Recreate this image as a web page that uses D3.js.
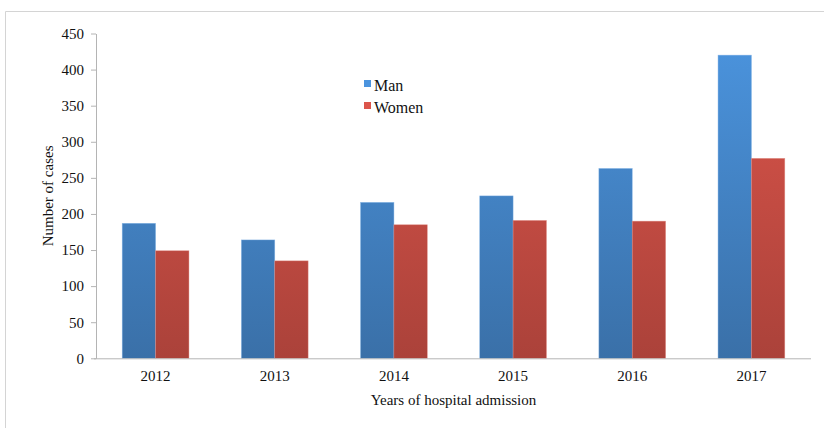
<!DOCTYPE html>
<html>
<head>
<meta charset="utf-8">
<script src="https://cdn.jsdelivr.net/npm/d3@7"></script>
<style>
  html, body { margin: 0; padding: 0; background: #fff; }
  svg { display: block; }
  svg text { font-family: 'Liberation Serif', 'Times New Roman', Times, serif !important; fill: #111; }
</style>
</head>
<body>
<svg id="chart" width="824" height="428"></svg>
<script>
// Hospital admissions by year and sex
const years = ["2012", "2013", "2014", "2015", "2016", "2017"];
const seriesNames = ["Man", "Women"];
const manCases = [187, 164, 216, 225, 263, 420];
const womenCases = [149, 135, 185, 191, 190, 277];
const yTicks = [0, 50, 100, 150, 200, 250, 300, 350, 400, 450];

const FONT = "'Liberation Serif', 'Times New Roman', Times, serif";
const svg = d3.select("#chart");
const W = 824, H = 428;
const margin = { left: 96, right: 13, top: 33.5, bottom: 69.7 };

// frame lines at top and left
svg.append("line").attr("x1", 5.5).attr("x2", W).attr("y1", 11.5).attr("y2", 11.5)
  .attr("stroke", "#d4d4d4");
svg.append("line").attr("x1", 5.5).attr("x2", 5.5).attr("y1", 11.5).attr("y2", H)
  .attr("stroke", "#d4d4d4");

const x = d3.scaleBand().domain(years)
  .range([margin.left, W - margin.right])
  .paddingInner(0.44).paddingOuter(0.22);
const xs = d3.scaleBand().domain(seriesNames).range([0, x.bandwidth()]);
const y = d3.scaleLinear().domain([0, 450]).range([H - margin.bottom, margin.top]);

// vertical gradients for the bars
const defs = svg.append("defs");
const grads = {
  Man: ["#4b94de", "#3a70a8"],
  Women: ["#dc554b", "#ab423a"]
};
Object.entries(grads).forEach(([k, [c0, c1]]) => {
  const g = defs.append("linearGradient").attr("id", "g-" + k)
    .attr("gradientUnits", "userSpaceOnUse")
    .attr("x1", 0).attr("x2", 0)
    .attr("y1", y(450)).attr("y2", y(0));
  g.append("stop").attr("offset", "0%").attr("stop-color", c0);
  g.append("stop").attr("offset", "100%").attr("stop-color", c1);
});

const rows = years.map((yr, i) => ({ year: yr, Man: manCases[i], Women: womenCases[i] }));

const groups = svg.append("g").selectAll("g").data(rows).join("g")
  .attr("transform", d => `translate(${x(d.year)},0)`);
groups.selectAll("rect")
  .data(d => seriesNames.map(s => ({ s, v: d[s] })))
  .join("rect")
  .attr("x", d => xs(d.s))
  .attr("width", xs.bandwidth())
  .attr("y", d => y(d.v))
  .attr("height", d => y(0) - y(d.v))
  .attr("fill", d => `url(#g-${d.s})`)
  .attr("stroke", d => d.s === "Man" ? "#7fb0e4" : "#e08a82")
  .attr("stroke-width", 0.6)
  .attr("stroke-opacity", 0.7);

// y axis
const yAxis = svg.append("g").attr("transform", `translate(${margin.left},0)`)
  .call(d3.axisLeft(y).tickValues(yTicks).tickSize(5).tickPadding(7).tickSizeOuter(0))
  .attr("font-family", null);
yAxis.select(".domain").attr("stroke", "#b4b4b4");
yAxis.selectAll(".tick line").attr("stroke", "#b4b4b4");
yAxis.selectAll(".tick text").attr("fill", "#111")
  .style("font-family", FONT).style("font-size", "15px");

// x axis
const xAxis = svg.append("g").attr("transform", `translate(0,${y(0)})`)
  .call(d3.axisBottom(x).tickSize(0).tickPadding(12))
  .attr("font-family", null);
xAxis.select(".domain").attr("stroke", "#b4b4b4")
  .attr("d", `M${margin.left - 2},0.5H${W - margin.right}`);
xAxis.selectAll(".tick text").attr("fill", "#111")
  .style("font-family", FONT).style("font-size", "15px");

// axis titles
svg.append("text").attr("x", (margin.left + W - margin.right) / 2).attr("y", 405)
  .attr("text-anchor", "middle").style("font-family", FONT).style("font-size", "15px")
  .text("Years of hospital admission");
svg.append("text").attr("transform", `translate(53,${(y(0) + y(450)) / 2}) rotate(-90)`)
  .attr("text-anchor", "middle").style("font-family", FONT).style("font-size", "15px")
  .text("Number of cases");

// legend
const legend = svg.append("g").attr("transform", "translate(364,0)");
seriesNames.forEach((s, i) => {
  const cy = 84 + i * 22;
  legend.append("rect").attr("x", 0).attr("y", cy - 4).attr("width", 7).attr("height", 7)
    .attr("fill", grads[s][0]);
  legend.append("text").attr("x", 10).attr("y", cy + 7)
    .style("font-family", FONT).style("font-size", "16px").text(s);
});
</script>
</body>
</html>
